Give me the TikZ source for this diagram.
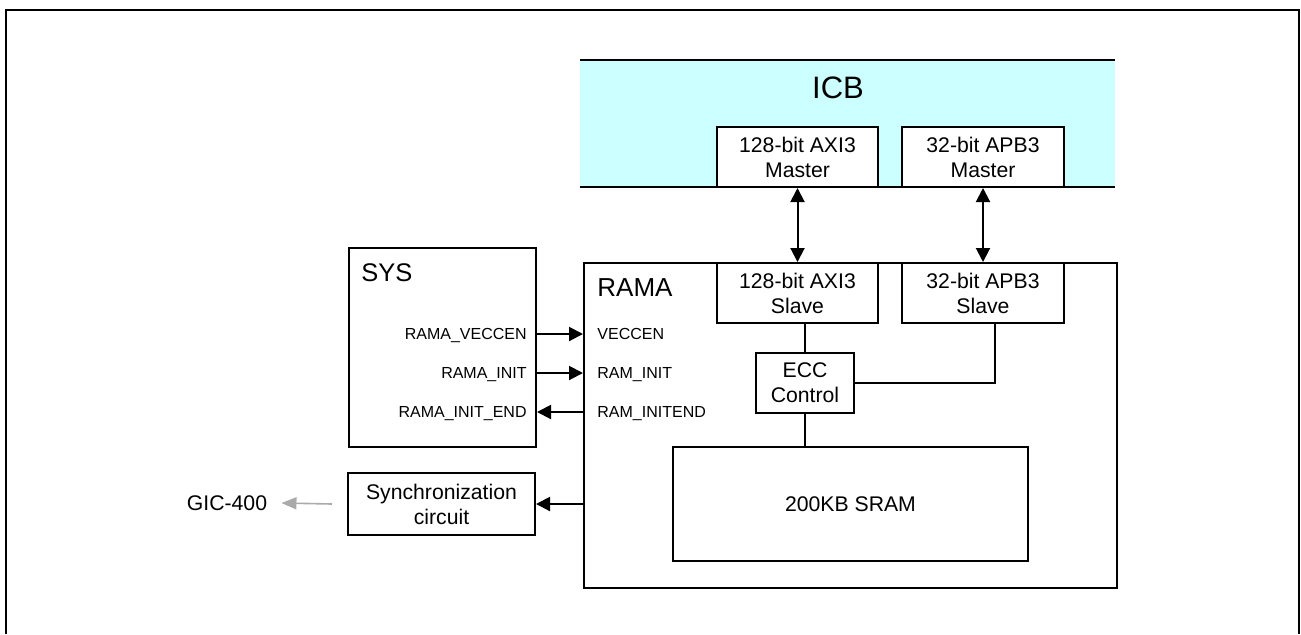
\documentclass[tikz,border=0pt]{standalone}
\usepackage{fontspec}
\setmainfont{Liberation Sans}
\usetikzlibrary{arrows.meta,calc}
\definecolor{icbfill}{RGB}{204,255,255}
\definecolor{gicgray}{RGB}{170,170,170}
\begin{document}
\begin{tikzpicture}[x=0.5pt,y=-0.5pt,
  box/.style={draw,line width=1pt,fill=white,align=center,inner sep=0pt,font=\fontsize{10.6pt}{12.5pt}\selectfont},
  sig/.style={inner sep=0pt,text height=5.73pt,text depth=0pt,font=\fontsize{8pt}{9.6pt}\selectfont},
  arr/.style={line width=1pt,-{Triangle[length=7pt,width=7pt]}},
  darr/.style={line width=1pt,{Triangle[length=7pt,width=7pt]}-{Triangle[length=7pt,width=7pt]}},
  wire/.style={line width=1pt},
  gar/.style={line width=0.8pt,draw=gicgray,-{Triangle[length=7.5pt,width=6pt,fill=gicgray]}}]
\useasboundingbox (0,0) rectangle (1301,634);
% outer frame
\draw[line width=1pt] (6,634) -- (6,10) -- (1299,10) -- (1299,634);
% ICB band
\node[fill=icbfill,minimum width=267.5pt,minimum height=63.5pt,inner sep=0pt] (icb) at (847.5,123.5) {};
\draw[wire] (icb.north west) -- (icb.north east);
\draw[wire] (icb.south west) -- (icb.south east);
\node[inner sep=0pt,font=\fontsize{15.5pt}{18pt}\selectfont] (icbt) at (838,88) {ICB};
\node[box,minimum width=80.5pt,minimum height=30pt] (axim) at (797.5,157) {128-bit AXI3\\Master};
\node[box,minimum width=81pt,minimum height=30pt] (apbm) at (983,157) {32-bit APB3\\Master};
% RAMA
\node[draw,line width=1pt,minimum width=266.5pt,minimum height=162.5pt,inner sep=0pt] (rama) at (850.5,425.5) {};
\node[anchor=west,inner sep=0pt,font=\fontsize{13pt}{15pt}\selectfont] (ramat) at (597,288) {RAMA};
\node[box,minimum width=80.5pt,minimum height=30pt] (axis) at (797.5,293) {128-bit AXI3\\Slave};
\node[box,minimum width=81pt,minimum height=30pt] (apbs) at (983,293) {32-bit APB3\\Slave};
\node[box,minimum width=49pt,minimum height=30pt] (ecc) at (805,383) {ECC\\Control};
\node[box,minimum width=177.5pt,minimum height=57pt] (sram) at (850.5,504) {200KB SRAM};
\draw[darr] (axim.south) -- (axis.north);
\draw[darr] (apbm.south) -- (apbs.north);
\draw[wire] (ecc.north) -- (ecc.north |- axis.south);
\draw[wire] (ecc.south) -- (ecc.south |- sram.north);
\draw[wire] (ecc.east) -| ([xshift=6pt]apbs.south);
% SYS
\node[draw,line width=1pt,minimum width=93.5pt,minimum height=99.5pt,inner sep=0pt] (sys) at (442.5,347.5) {};
\node[anchor=west,inner sep=0pt,font=\fontsize{12.75pt}{15pt}\selectfont] (syst) at (361,273) {SYS};
\coordinate (y1) at (0,334);
\coordinate (y2) at (0,373);
\coordinate (y3) at (0,412);
\node[sig,anchor=east] (l1) at (527,334) {RAMA\_VECCEN};
\node[sig,anchor=east] (l2) at (527,373) {RAMA\_INIT};
\node[sig,anchor=east] (l3) at (527,412) {RAMA\_INIT\_END};
\node[sig,anchor=west] (r1) at (597,334) {VECCEN};
\node[sig,anchor=west] (r2) at (597,373) {RAM\_INIT};
\node[sig,anchor=west] (r3) at (597,412) {RAM\_INITEND};
\draw[arr] (sys.east |- y1) -- (rama.west |- y1);
\draw[arr] (sys.east |- y2) -- (rama.west |- y2);
\draw[arr] (rama.west |- y3) -- (sys.east |- y3);
% sync
\node[box,minimum width=93.5pt,minimum height=31pt] (sync) at (441.5,504) {Synchronization\\circuit};
\draw[arr] (rama.west |- sync.east) -- (sync.east);
\node[inner sep=0pt,font=\fontsize{10.6pt}{12.5pt}\selectfont] (gic) at (227,503) {GIC-400};
\draw[gar] ([xshift=-7.5pt]sync.west) -- ([xshift=7pt]gic.east);
\end{tikzpicture}
\end{document}
